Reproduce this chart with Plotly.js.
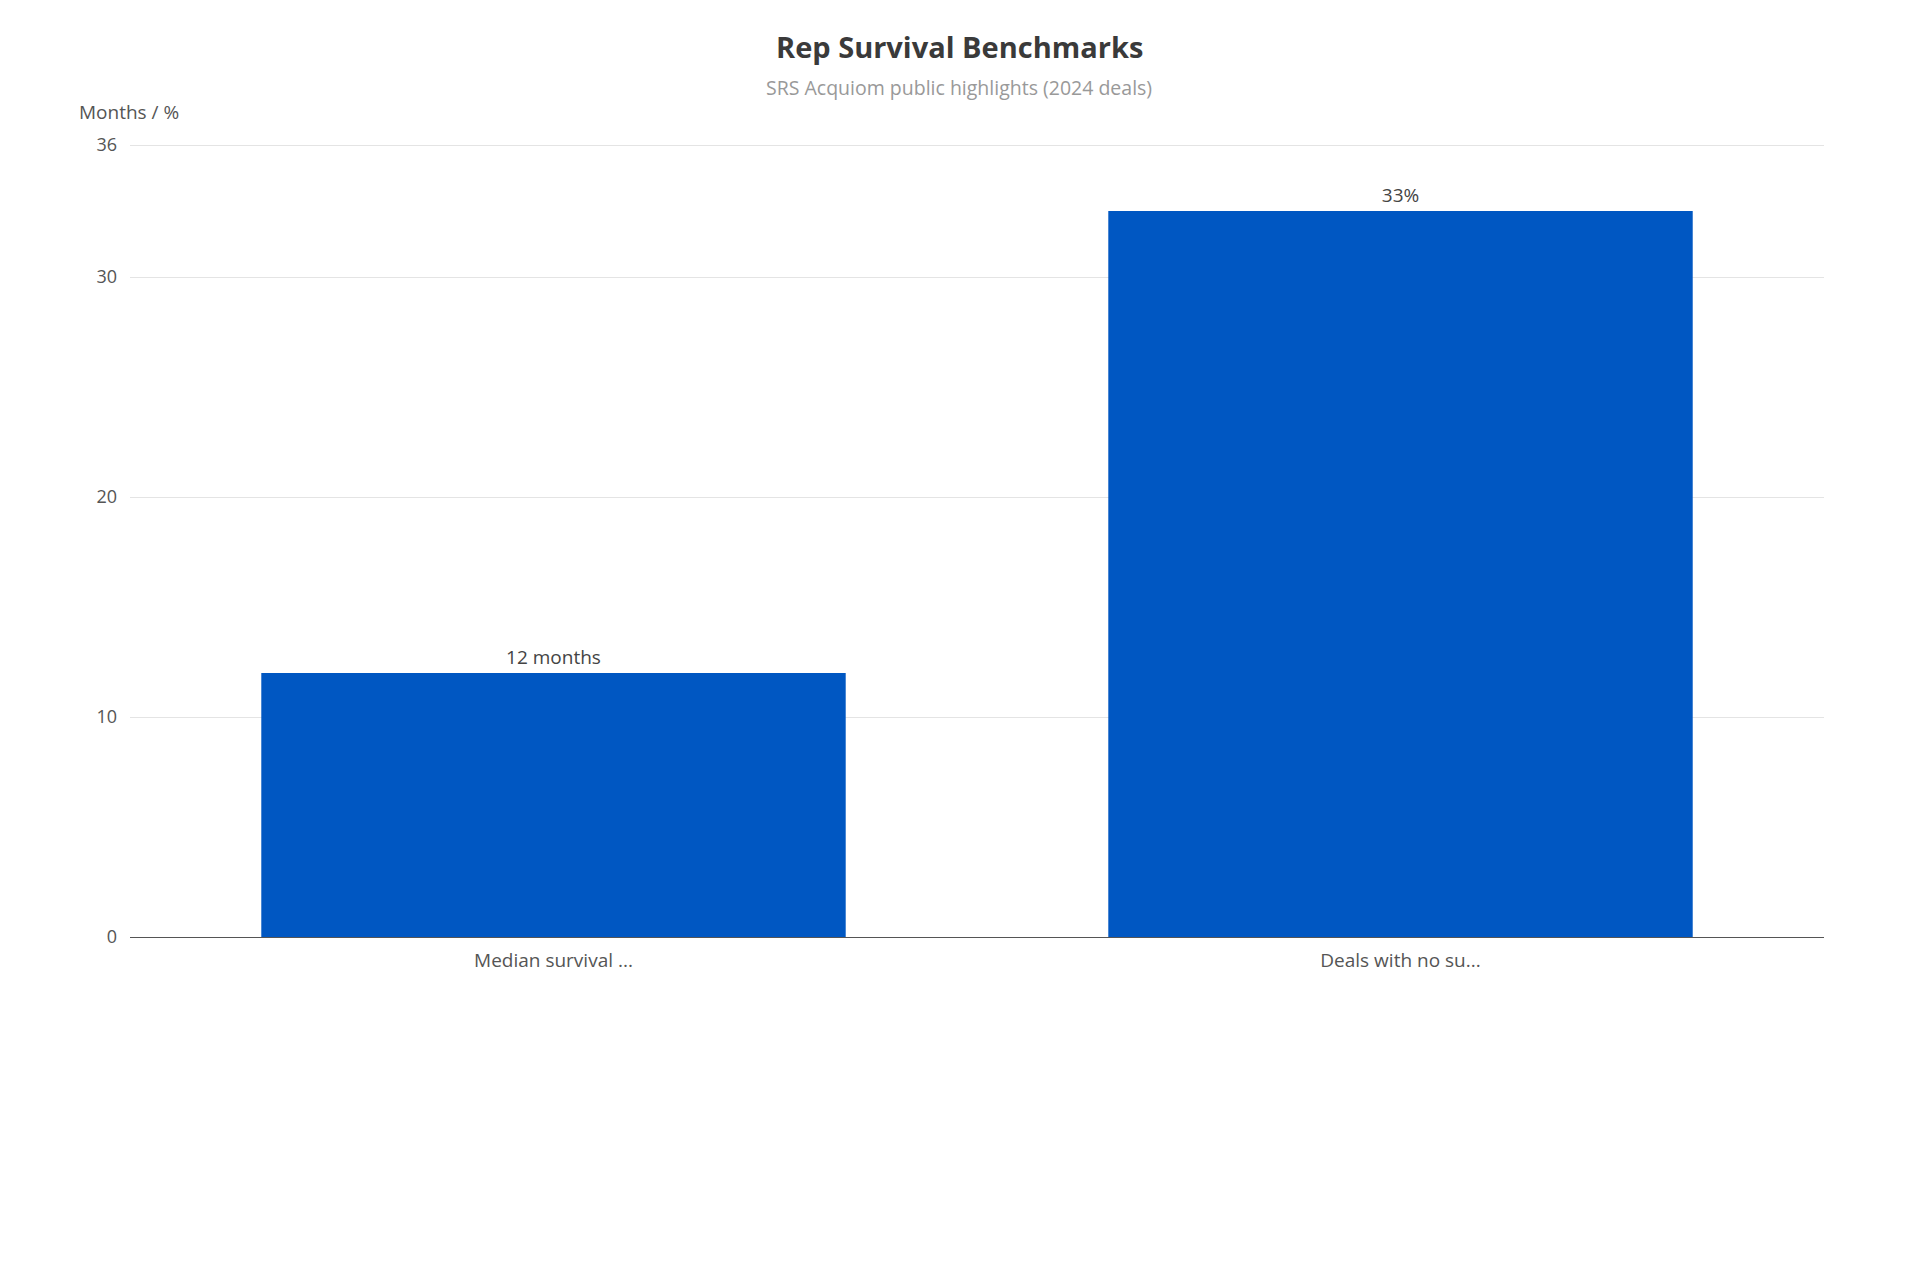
<!DOCTYPE html>
<html>
<head>
<meta charset="utf-8">
<script src="https://cdn.plot.ly/plotly-3.0.1.min.js"></script>
<style>
  html, body { margin: 0; padding: 0; background: #fff; }
  #chart { width: 1920px; height: 1279px; }
</style>
</head>
<body>
<div id="chart"></div>
<script>
var categories = ["Median survival ...", "Deals with no su..."];
var values = [12, 33];
var barLabels = ["12 months", "33%"];
var yTicks = [0, 10, 20, 30, 36];

var font = "Open Sans, Noto Sans, sans-serif";

window.onload = function() {
  var trace = {
    type: "bar",
    x: categories,
    y: values,
    text: barLabels,
    textposition: "outside",
    cliponaxis: false,
    textfont: { family: font, size: 19, color: "#444" },
    marker: { color: "#0057c2" },
    hoverinfo: "x+y"
  };

  var layout = {
    width: 1920,
    height: 1279,
    margin: { l: 130, r: 96, t: 144, b: 342 },
    paper_bgcolor: "#fff",
    plot_bgcolor: "#fff",
    font: { family: font, color: "#555" },
    showlegend: false,
    bargap: 0.31,
    xaxis: {
      type: "category",
      tickfont: { family: font, size: 19, color: "#555" },
      showgrid: false,
      ticks: "",
      showline: true,
      linecolor: "#555",
      linewidth: 1,
      ticklabelstandoff: 6
    },
    yaxis: {
      range: [0, 36.05],
      tickvals: yTicks,
      tickfont: { family: font, size: 18, color: "#555" },
      gridcolor: "#e4e4e4",
      zeroline: false,
      ticks: "",
      ticklabelstandoff: 12
    },
    annotations: [
      {
        text: "<b>Rep Survival Benchmarks</b>",
        xref: "paper", yref: "paper",
        x: 0.5, xshift: -18, y: 1, yshift: 119,
        showarrow: false,
        font: { family: font, size: 29, color: "#3a3a3a" }
      },
      {
        text: "SRS Acquiom public highlights (2024 deals)",
        xref: "paper", yref: "paper",
        x: 0.5, xshift: -18, y: 1, yshift: 72,
        showarrow: false,
        font: { family: font, size: 19.5, color: "#999" }
      },
      {
        text: "Months / %",
        xref: "paper", yref: "paper",
        x: 0, xshift: -53, xanchor: "left",
        y: 1, yshift: 47,
        showarrow: false,
        font: { family: font, size: 19, color: "#555" }
      }
    ]
  };

  Plotly.newPlot("chart", [trace], layout, { displayModeBar: false, responsive: false });
};
</script>
</body>
</html>
